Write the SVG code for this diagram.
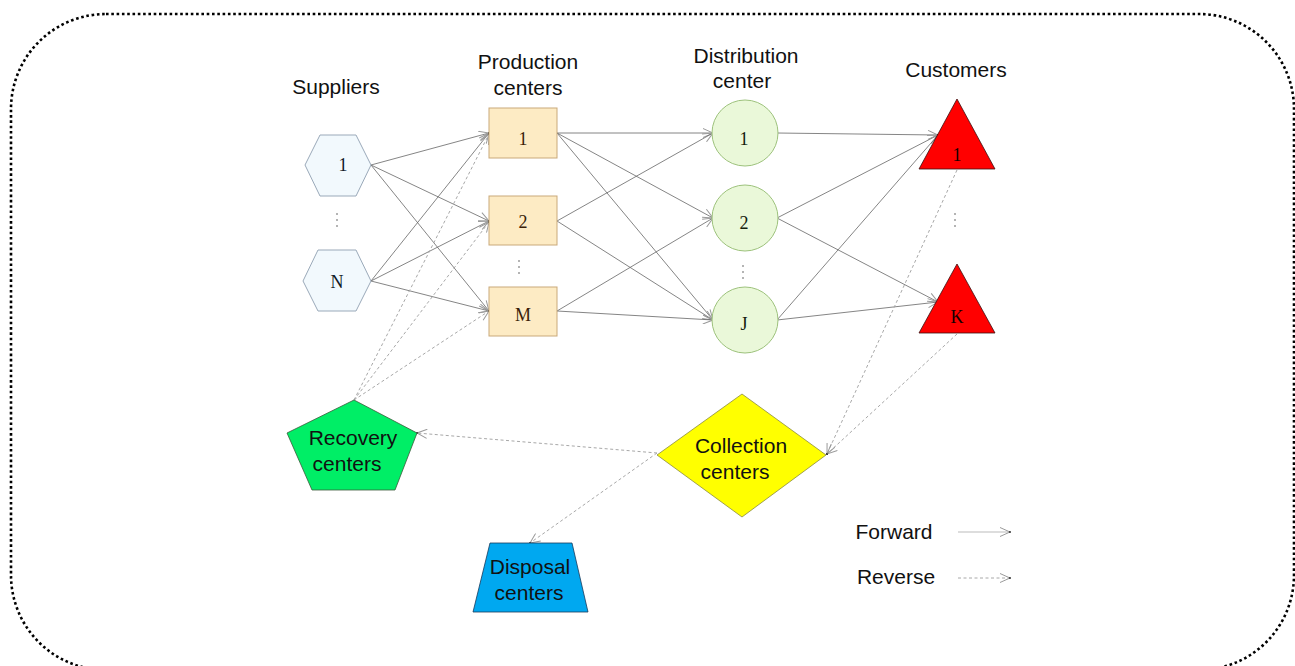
<svg xmlns="http://www.w3.org/2000/svg" width="1295" height="666" viewBox="0 0 1295 666">
  <style>
    .lbl { font-family: "Liberation Sans", Arial, sans-serif; font-size: 21px; fill: #111; text-anchor: middle; }
    .num { font-family: "Liberation Serif", "Times New Roman", serif; font-size: 18px; text-anchor: middle; }
    .fwd { stroke: #666; stroke-width: 0.8; fill: none; marker-end: url(#arrow); }
    .rev { stroke: #a8a8a8; stroke-width: 1; stroke-dasharray: 3 2.5; fill: none; marker-end: url(#arrow); }
    .dot { fill: #555; }
  </style>
  <defs>
    <marker id="arrow" viewBox="0 0 12 10" refX="11" refY="5" markerWidth="12" markerHeight="10" markerUnits="userSpaceOnUse" orient="auto">
      <path d="M1,0.5 L11,5 L1,9.5" fill="none" stroke="#9a9a9a" stroke-width="1"/>
      <circle cx="11" cy="5" r="0.9" fill="#222"/>
    </marker>
  </defs>

  <rect width="1295" height="666" fill="#ffffff"/>

  <!-- outer dotted frame -->
  <rect x="11" y="14" width="1283" height="656" rx="95" ry="95" fill="none" stroke="#000" stroke-width="2.6" stroke-dasharray="2.6 2.7"/>

  <!-- column headings -->
  <text class="lbl" x="336" y="94">Suppliers</text>
  <text class="lbl" x="528" y="69">Production</text>
  <text class="lbl" x="528" y="95">centers</text>
  <text class="lbl" x="746" y="63">Distribution</text>
  <text class="lbl" x="742" y="88">center</text>
  <text class="lbl" x="956" y="77">Customers</text>

  <!-- connectors -->
  <g id="connectors">
    <!-- suppliers to production -->
    <line class="fwd" x1="371" y1="165" x2="489" y2="133"/>
    <line class="fwd" x1="371" y1="165" x2="489" y2="221"/>
    <line class="fwd" x1="371" y1="165" x2="489" y2="311"/>
    <line class="fwd" x1="371" y1="281" x2="489" y2="133"/>
    <line class="fwd" x1="371" y1="281" x2="489" y2="221"/>
    <line class="fwd" x1="371" y1="281" x2="489" y2="311"/>
    <!-- production to distribution -->
    <line class="fwd" x1="557" y1="133" x2="713" y2="133"/>
    <line class="fwd" x1="557" y1="133" x2="713" y2="218"/>
    <line class="fwd" x1="557" y1="133" x2="713" y2="320"/>
    <line class="fwd" x1="557" y1="221" x2="713" y2="133"/>
    <line class="fwd" x1="557" y1="221" x2="713" y2="320"/>
    <line class="fwd" x1="557" y1="311" x2="713" y2="218"/>
    <line class="fwd" x1="557" y1="311" x2="713" y2="320"/>
    <!-- distribution to customers -->
    <line class="fwd" x1="777" y1="133" x2="938" y2="135"/>
    <line class="fwd" x1="777" y1="218" x2="938" y2="135"/>
    <line class="fwd" x1="777" y1="218" x2="938" y2="302"/>
    <line class="fwd" x1="777" y1="320" x2="938" y2="135"/>
    <line class="fwd" x1="777" y1="320" x2="938" y2="302"/>
    <!-- reverse flows -->
    <line class="rev" x1="957" y1="170" x2="827" y2="454"/>
    <line class="rev" x1="957" y1="334" x2="827" y2="454"/>
    <line class="rev" x1="657" y1="453" x2="417" y2="433"/>
    <line class="rev" x1="657" y1="453" x2="530" y2="543"/>
    <line class="rev" x1="354" y1="400" x2="489" y2="134"/>
    <line class="rev" x1="354" y1="400" x2="489" y2="222"/>
    <line class="rev" x1="354" y1="400" x2="489" y2="311"/>
  </g>

  <!-- suppliers -->
  <g id="supplier-1">
    <polygon points="305,165 320,135 356,135 371,165 356,196 320,196" fill="#f2f9fd" stroke="#9aa9b9" stroke-width="1"/>
    <text class="num" x="343" y="171" fill="#111a28">1</text>
  </g>
  <g id="supplier-dots">
    <circle class="dot" cx="337" cy="214" r="0.8"/>
    <circle class="dot" cx="337" cy="220" r="0.8"/>
    <circle class="dot" cx="337" cy="226" r="0.8"/>
  </g>
  <g id="supplier-N">
    <polygon points="303,281 318,250 356,250 371,281 356,311 318,311" fill="#f2f9fd" stroke="#9aa9b9" stroke-width="1"/>
    <text class="num" x="337" y="288" fill="#111a28">N</text>
  </g>

  <!-- production centers -->
  <g id="production-1">
    <rect x="489" y="108" width="68" height="50" fill="#fdebc4" stroke="#c9a97a" stroke-width="1"/>
    <text class="num" x="523" y="145" fill="#3a1e08">1</text>
  </g>
  <g id="production-2">
    <rect x="489" y="196" width="68" height="49" fill="#fdebc4" stroke="#c9a97a" stroke-width="1"/>
    <text class="num" x="523" y="228" fill="#3a1e08">2</text>
  </g>
  <g id="production-dots">
    <circle class="dot" cx="519" cy="261" r="0.8"/>
    <circle class="dot" cx="519" cy="267" r="0.8"/>
    <circle class="dot" cx="519" cy="273" r="0.8"/>
  </g>
  <g id="production-M">
    <rect x="489" y="287" width="68" height="49" fill="#fdebc4" stroke="#c9a97a" stroke-width="1"/>
    <text class="num" x="523" y="321" fill="#3a1e08">M</text>
  </g>

  <!-- distribution centers -->
  <g id="distribution-1">
    <circle cx="745" cy="133" r="33" fill="#eaf8d9" stroke="#9dc27c" stroke-width="1"/>
    <text class="num" x="744" y="145" fill="#14200c">1</text>
  </g>
  <g id="distribution-2">
    <circle cx="745" cy="218" r="33" fill="#eaf8d9" stroke="#9dc27c" stroke-width="1"/>
    <text class="num" x="744" y="229" fill="#14200c">2</text>
  </g>
  <g id="distribution-dots">
    <circle class="dot" cx="743" cy="266" r="0.8"/>
    <circle class="dot" cx="743" cy="272" r="0.8"/>
    <circle class="dot" cx="743" cy="278" r="0.8"/>
  </g>
  <g id="distribution-J">
    <circle cx="745" cy="320" r="33" fill="#eaf8d9" stroke="#9dc27c" stroke-width="1"/>
    <text class="num" x="744" y="330" fill="#14200c">J</text>
  </g>

  <!-- customers -->
  <g id="customer-1">
    <polygon points="957,99 995,169 919,169" fill="#ff0000" stroke="#3a1010" stroke-width="0.8"/>
    <text class="num" x="957" y="161" fill="#140000">1</text>
  </g>
  <g id="customer-dots">
    <circle class="dot" cx="955" cy="214" r="0.8"/>
    <circle class="dot" cx="955" cy="220" r="0.8"/>
    <circle class="dot" cx="955" cy="226" r="0.8"/>
  </g>
  <g id="customer-K">
    <polygon points="957,264 995,333 919,333" fill="#ff0000" stroke="#3a1010" stroke-width="0.8"/>
    <text class="num" x="957" y="323" fill="#140000">K</text>
  </g>

  <!-- reverse-logistics facilities -->
  <g id="recovery-centers">
    <polygon points="354,400 417,433 395,490 312,490 287,433" fill="#00ee66" stroke="#3a5a3a" stroke-width="0.8"/>
    <text class="lbl" x="353" y="445">Recovery</text>
    <text class="lbl" x="347" y="471">centers</text>
  </g>
  <g id="collection-centers">
    <polygon points="742,394 826,455 742,517 657,455" fill="#ffff00" stroke="#8a8a40" stroke-width="0.8"/>
    <text class="lbl" x="741" y="453">Collection</text>
    <text class="lbl" x="735" y="479">centers</text>
  </g>
  <g id="disposal-centers">
    <polygon points="490,543 572,543 588,612 473,612" fill="#00a8f0" stroke="#1a3a5a" stroke-width="0.8"/>
    <text class="lbl" x="530" y="574">Disposal</text>
    <text class="lbl" x="529" y="600">centers</text>
  </g>

  <!-- legend -->
  <g id="legend">
    <text class="lbl" x="894" y="539">Forward</text>
    <line class="fwd" x1="958" y1="532" x2="1010" y2="532" style="stroke:#bbb;stroke-width:1.2"/>
    <text class="lbl" x="896" y="584">Reverse</text>
    <line class="rev" x1="958" y1="578" x2="1010" y2="578"/>
  </g>
</svg>
